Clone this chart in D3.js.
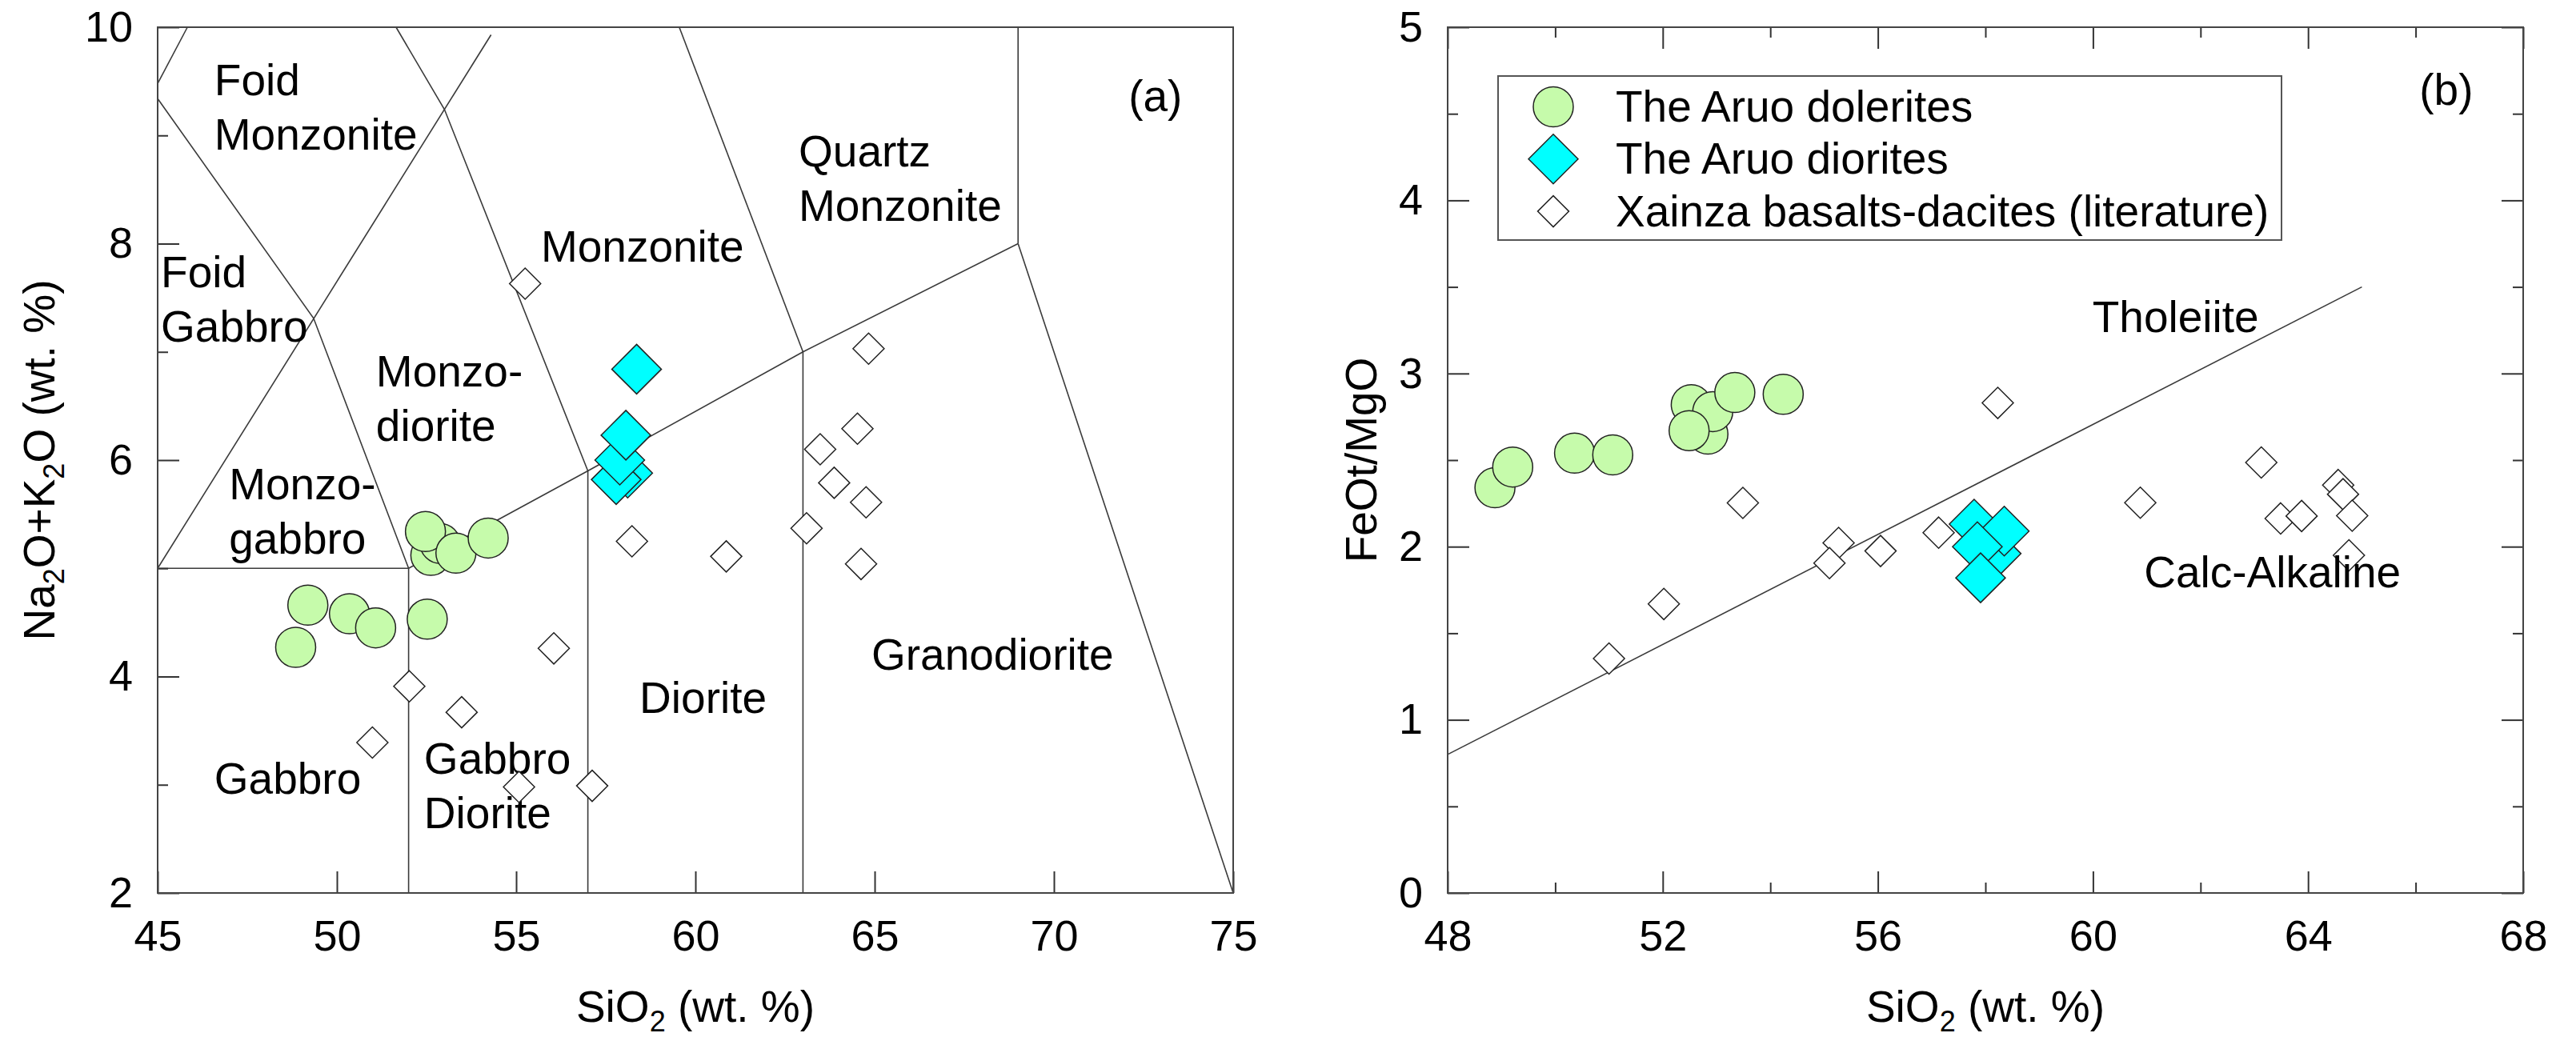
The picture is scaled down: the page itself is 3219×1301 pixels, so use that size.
<!DOCTYPE html>
<html>
<head>
<meta charset="utf-8">
<script src="https://cdn.jsdelivr.net/npm/d3@7"></script>
<style>
  body { margin: 0; background: #fff; }
  svg text { font-family: "Liberation Sans", Arial, sans-serif; fill: #000; }
</style>
</head>
<body>
<svg id="chart" width="3219" height="1301"></svg>
<script>
// ---------- Panel (a): total alkali vs. silica (plutonic) ----------
const tasDoleriteSiO2 = [48.85, 49.19, 50.35, 51.08, 52.52, 52.62, 52.88, 52.47, 53.32, 54.22];
const tasDoleriteAlk  = [4.27, 4.66, 4.58, 4.45, 4.53, 5.12, 5.23, 5.34, 5.14, 5.28];

const tasDioriteSiO2 = [58.11, 57.79, 57.89, 58.06, 58.36];
const tasDioriteAlk  = [5.88, 5.82, 6.00, 6.23, 6.84];

const tasXainzaSiO2 = [55.25, 64.83, 64.52, 63.48, 63.87, 64.76, 63.10, 58.23, 60.86, 64.62, 56.05, 52.02, 53.48, 50.99, 55.08, 57.12];
const tasXainzaAlk  = [7.63, 7.03, 6.29, 6.10, 5.79, 5.61, 5.37, 5.25, 5.11, 5.04, 4.26, 3.91, 3.67, 3.39, 2.98, 2.99];

const tasXTicks = [45, 50, 55, 60, 65, 70, 75];
const tasYTicks = [2, 4, 6, 8, 10];
const tasYMinor = [3, 5, 7, 9];

// field boundaries, [SiO2, Na2O+K2O]
const tasBoundaries = [
  [[45.83, 10], [45, 9.48]],
  [[45, 9.34], [49.35, 7.31], [52, 5]],
  [[45, 5], [54.3, 9.93]],
  [[51.65, 10], [53.0, 9.24], [57, 5.9]],
  [[45, 5], [52, 5]],
  [[52, 2], [52, 5]],
  [[52, 5], [57, 5.9], [63, 7], [69, 8]],
  [[69, 8], [75, 2]],
  [[57, 2], [57, 5.9]],
  [[63, 2], [63, 7]],
  [[69, 8], [69, 10]],
  [[59.55, 10], [63, 7]]
];

const tasFieldNames = [
  { lines: ["Foid", "Monzonite"], at: [46.58, 9.37] },
  { lines: ["Foid", "Gabbro"], at: [45.09, 7.60] },
  { lines: ["Monzo-", "diorite"], at: [51.09, 6.68] },
  { lines: ["Monzo-", "gabbro"], at: [46.99, 5.64] },
  { lines: ["Monzonite"], at: [55.69, 7.83] },
  { lines: ["Quartz", "Monzonite"], at: [62.88, 8.71] },
  { lines: ["Granodiorite"], at: [64.91, 4.06] },
  { lines: ["Diorite"], at: [58.44, 3.66] },
  { lines: ["Gabbro", "Diorite"], at: [52.43, 3.10] },
  { lines: ["Gabbro"], at: [46.58, 2.92] },
  { lines: ["(a)"], at: [72.08, 9.22] }
];

// ---------- Panel (b): FeOt/MgO vs. silica ----------
const fmDoleriteSiO2 = [48.88, 49.21, 50.36, 51.07, 52.53, 52.84, 52.93, 52.49, 53.34, 54.24];
const fmDoleriteRatio = [2.34, 2.46, 2.54, 2.53, 2.82, 2.65, 2.78, 2.67, 2.89, 2.88];

const fmDioriteSiO2 = [58.20, 57.79, 58.35, 57.85, 57.91];
const fmDioriteRatio = [1.96, 2.13, 2.09, 2.00, 1.82];

const fmXainzaSiO2 = [58.23, 63.13, 53.49, 60.88, 64.56, 64.65, 63.49, 63.88, 64.82, 64.76, 57.13, 55.27, 56.05, 55.10, 52.02, 51.00];
const fmXainzaRatio = [2.83, 2.486, 2.253, 2.254, 2.356, 2.303, 2.163, 2.177, 2.179, 1.95, 2.081, 2.022, 1.975, 1.905, 1.669, 1.354];

const fmXTicks = [48, 52, 56, 60, 64, 68];
const fmXMinor = [50, 54, 58, 62, 66];
const fmYTicks = [0, 1, 2, 3, 4, 5];
const fmYMinor = [0.5, 1.5, 2.5, 3.5, 4.5];

// tholeiitic / calc-alkaline divide
const fmDivide = [[48, 0.8], [65, 3.5]];

const fmFieldNames = [
  { lines: ["Tholeiite"], at: [59.99, 3.24] },
  { lines: ["Calc-Alkaline"], at: [60.95, 1.765] },
  { lines: ["(b)"], at: [66.07, 4.55] }
];

const seriesNames = ["The Aruo dolerites", "The Aruo diorites", "Xainza basalts-dacites (literature)"];

// ---------- drawing ----------
const FONT = 55, TICK_FONT = 54, SUB_FONT = 36, SUB_SHIFT = 12;
const MAJOR = 27, MINOR = 13;
const svg = d3.select("#chart");

const xA = d3.scaleLinear().domain([45, 75]).range([197, 1541]);
const yA = d3.scaleLinear().domain([2, 10]).range([1116, 34]);
const xB = d3.scaleLinear().domain([48, 68]).range([1809, 3153]);
const yB = d3.scaleLinear().domain([0, 5]).range([1116, 34]);

const bigDiamond = "M0,-31L31,0L0,31L-31,0Z";
const smallDiamond = "M0,-19.5L19.5,0L0,19.5L-19.5,0Z";
const greenFill = "#c6fbab";
const cyanFill = "#00ffff";

function styleAxis(g, labels) {
  g.select(".domain").remove();
  g.attr("font-size", TICK_FONT).attr("font-family", null);
  g.selectAll(".tick line").attr("stroke", "#333").attr("stroke-width", 2);
  if (!labels) g.selectAll(".tick text").remove();
}

function richText(g, parts, attrs) {
  const t = g.append("text");
  Object.entries(attrs).forEach(([k, v]) => t.attr(k, v));
  t.attr("font-size", FONT);
  let shifted = false;
  parts.forEach(p => {
    const isSub = typeof p !== "string";
    const s = t.append("tspan").text(isSub ? p.sub : p);
    if (isSub) { s.attr("font-size", SUB_FONT).attr("dy", SUB_SHIFT); shifted = true; }
    else if (shifted) { s.attr("dy", -SUB_SHIFT); shifted = false; }
  });
  return t;
}

function fieldLabels(g, list, x, y) {
  list.forEach(f => {
    const t = g.append("text")
      .attr("x", x(f.at[0])).attr("y", y(f.at[1]))
      .attr("font-size", FONT);
    f.lines.forEach((ln, i) => {
      t.append("tspan").attr("x", x(f.at[0])).attr("dy", i === 0 ? 0 : 68).text(ln);
    });
  });
}

function frame(g, x, y) {
  g.append("rect")
    .attr("x", x.range()[0]).attr("y", y.range()[1])
    .attr("width", x.range()[1] - x.range()[0])
    .attr("height", y.range()[0] - y.range()[1])
    .attr("fill", "none").attr("stroke", "#444").attr("stroke-width", 2);
}

function drawPoints(g, xs, ys, x, y, kind) {
  const pts = xs.map((v, i) => [v, ys[i]]);
  if (kind === "circle") {
    g.selectAll(null).data(pts).join("circle")
      .attr("cx", d => x(d[0])).attr("cy", d => y(d[1])).attr("r", 25)
      .attr("fill", greenFill).attr("stroke", "#222").attr("stroke-width", 1.5);
  } else {
    g.selectAll(null).data(pts).join("path")
      .attr("transform", d => `translate(${x(d[0])},${y(d[1])})`)
      .attr("d", kind === "cyan" ? bigDiamond : smallDiamond)
      .attr("fill", kind === "cyan" ? cyanFill : "#fff")
      .attr("stroke", "#222").attr("stroke-width", 1.5);
  }
}

const line = (x, y) => d3.line().x(d => x(d[0])).y(d => y(d[1]));

// ---- panel (a)
const gA = svg.append("g");
gA.append("g").selectAll(null).data(tasBoundaries).join("path")
  .attr("d", line(xA, yA)).attr("fill", "none")
  .attr("stroke", "#3a3a3a").attr("stroke-width", 1.6);

gA.append("g").attr("transform", `translate(0,${yA(2)})`)
  .call(d3.axisBottom(xA).tickValues(tasXTicks).tickSize(-MAJOR).tickPadding(34).tickFormat(d3.format("d")))
  .call(g => styleAxis(g, true));
gA.append("g").attr("transform", `translate(${xA(45)},0)`)
  .call(d3.axisLeft(yA).tickValues(tasYTicks).tickSize(-MAJOR).tickPadding(31).tickFormat(d3.format("d")))
  .call(g => styleAxis(g, true));
gA.append("g").attr("transform", `translate(${xA(45)},0)`)
  .call(d3.axisLeft(yA).tickValues(tasYMinor).tickSize(-MINOR))
  .call(g => styleAxis(g, false));
frame(gA, xA, yA);

fieldLabels(gA, tasFieldNames, xA, yA);
drawPoints(gA, tasXainzaSiO2, tasXainzaAlk, xA, yA, "open");
drawPoints(gA, tasDoleriteSiO2, tasDoleriteAlk, xA, yA, "circle");
drawPoints(gA, tasDioriteSiO2, tasDioriteAlk, xA, yA, "cyan");

richText(gA, ["SiO", { sub: "2" }, " (wt. %)"], { x: (xA.range()[0] + xA.range()[1]) / 2, y: 1277, "text-anchor": "middle" });
richText(gA, ["Na", { sub: "2" }, "O+K", { sub: "2" }, "O (wt. %)"], { transform: `translate(68,${(yA.range()[0] + yA.range()[1]) / 2}) rotate(-90)`, "text-anchor": "middle" });

// ---- panel (b)
const gB = svg.append("g");
gB.append("path").datum(fmDivide).attr("d", line(xB, yB))
  .attr("fill", "none").attr("stroke", "#3a3a3a").attr("stroke-width", 1.6);

gB.append("g").attr("transform", `translate(0,${yB(0)})`)
  .call(d3.axisBottom(xB).tickValues(fmXTicks).tickSize(-MAJOR).tickPadding(34).tickFormat(d3.format("d")))
  .call(g => styleAxis(g, true));
gB.append("g").attr("transform", `translate(0,${yB(0)})`)
  .call(d3.axisBottom(xB).tickValues(fmXMinor).tickSize(-MINOR))
  .call(g => styleAxis(g, false));
gB.append("g").attr("transform", `translate(0,${yB(5)})`)
  .call(d3.axisTop(xB).tickValues(fmXTicks).tickSize(-MAJOR))
  .call(g => styleAxis(g, false));
gB.append("g").attr("transform", `translate(0,${yB(5)})`)
  .call(d3.axisTop(xB).tickValues(fmXMinor).tickSize(-MINOR))
  .call(g => styleAxis(g, false));
gB.append("g").attr("transform", `translate(${xB(48)},0)`)
  .call(d3.axisLeft(yB).tickValues(fmYTicks).tickSize(-MAJOR).tickPadding(31).tickFormat(d3.format("d")))
  .call(g => styleAxis(g, true));
gB.append("g").attr("transform", `translate(${xB(48)},0)`)
  .call(d3.axisLeft(yB).tickValues(fmYMinor).tickSize(-MINOR))
  .call(g => styleAxis(g, false));
gB.append("g").attr("transform", `translate(${xB(68)},0)`)
  .call(d3.axisRight(yB).tickValues(fmYTicks).tickSize(-MAJOR))
  .call(g => styleAxis(g, false));
gB.append("g").attr("transform", `translate(${xB(68)},0)`)
  .call(d3.axisRight(yB).tickValues(fmYMinor).tickSize(-MINOR))
  .call(g => styleAxis(g, false));
frame(gB, xB, yB);

drawPoints(gB, fmXainzaSiO2, fmXainzaRatio, xB, yB, "open");
drawPoints(gB, fmDoleriteSiO2, fmDoleriteRatio, xB, yB, "circle");
drawPoints(gB, fmDioriteSiO2, fmDioriteRatio, xB, yB, "cyan");
fieldLabels(gB, fmFieldNames, xB, yB);

richText(gB, ["SiO", { sub: "2" }, " (wt. %)"], { x: (xB.range()[0] + xB.range()[1]) / 2, y: 1277, "text-anchor": "middle" });
richText(gB, ["FeOt/MgO"], { transform: `translate(1720,${(yB.range()[0] + yB.range()[1]) / 2}) rotate(-90)`, "text-anchor": "middle" });

// legend
const leg = gB.append("g").attr("transform", `translate(${xB(48) + 63},${yB(5) + 61})`);
leg.append("rect").attr("x", 0).attr("y", 0).attr("width", 979).attr("height", 205)
  .attr("fill", "#fff").attr("stroke", "#555").attr("stroke-width", 2);
const rows = leg.selectAll(null).data(seriesNames).join("g")
  .attr("transform", (d, i) => `translate(69,${38.5 + i * 65.3})`);
rows.each(function (d, i) {
  const r = d3.select(this);
  if (i === 0) r.append("circle").attr("r", 25).attr("fill", greenFill).attr("stroke", "#222").attr("stroke-width", 1.5);
  else r.append("path").attr("d", i === 1 ? bigDiamond : smallDiamond)
    .attr("fill", i === 1 ? cyanFill : "#fff").attr("stroke", "#222").attr("stroke-width", 1.5);
  r.append("text").attr("x", 78).attr("y", 18.5).attr("font-size", FONT).text(d);
});
</script>
</body>
</html>
